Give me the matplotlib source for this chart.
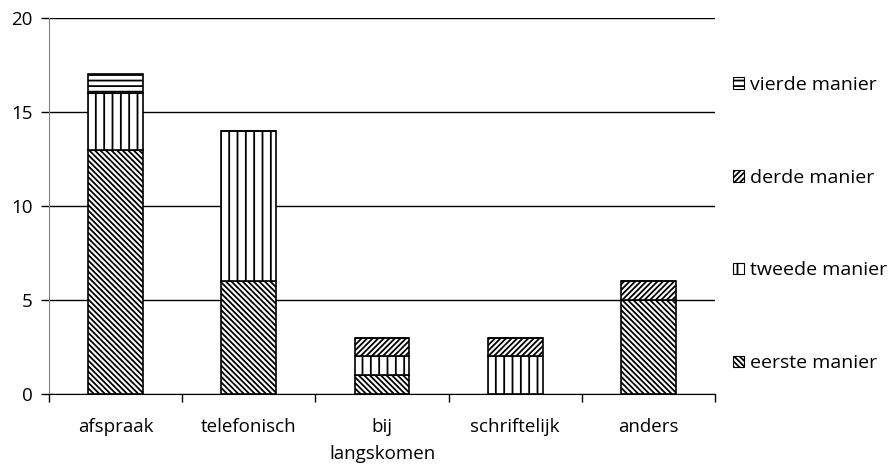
import numpy as np
import matplotlib.pyplot as plt
from matplotlib.patches import Patch

plt.rcParams['font.family'] = ['Open Sans', 'DejaVu Sans']
plt.rcParams['hatch.linewidth'] = 1.3

categories = ['afspraak', 'telefonisch', 'bij\nlangskomen', 'schriftelijk', 'anders']
eerste = [13, 6, 1, 0, 5]
tweede = [3, 8, 1, 2, 0]
derde = [0, 0, 1, 1, 1]
vierde = [1, 0, 0, 0, 0]
series = [('eerste manier', eerste, '\\' * 6),
          ('tweede manier', tweede, '||'),
          ('derde manier', derde, '/' * 6),
          ('vierde manier', vierde, '---')]

fig = plt.figure(figsize=(8.93, 4.67), dpi=100)
ax = fig.add_axes([49/893, 1-394/467, (715-49)/893, (394-18)/467])

x = np.arange(len(categories))
bottom = np.zeros(len(categories))
handles = []
for name, vals, hatch in series:
    vals = np.array(vals, dtype=float)
    ax.bar(x, vals, 0.41, bottom=bottom, color='white', edgecolor='black',
           hatch=hatch, linewidth=1.2, zorder=3)
    bottom += vals
    handles.append(Patch(facecolor='white', edgecolor='black', hatch=hatch, linewidth=0.8, label=name))

ax.set_xlim(-0.5, 4.5)
ax.set_ylim(0, 20)
ax.set_yticks([0, 5, 10, 15, 20])
ax.yaxis.grid(True, color='black', linewidth=1)
ax.set_axisbelow(True)
ax.set_xticks(x)
ax.set_xticklabels(categories, fontsize=13.5, linespacing=1.65)
ax.set_xticks(np.arange(-0.5, 5, 1), minor=True)
ax.tick_params(axis='x', which='major', length=0, pad=17)
ax.tick_params(axis='x', which='minor', length=6, width=1, direction='out')
ax.tick_params(axis='y', length=6, width=1, labelsize=13.5, pad=6)
for s in ['top', 'right']:
    ax.spines[s].set_visible(False)
ax.spines['left'].set_color('#808080')
ax.spines['bottom'].set_color('black')

fig.legend(handles[::-1], [h.get_label() for h in handles[::-1]],
           loc='center left', bbox_to_anchor=(733/893, 1-224/467), frameon=False,
           fontsize=14, handlelength=0.55, handleheight=0.55, handletextpad=0.3,
           labelspacing=3.85, borderpad=0, borderaxespad=0)

fig.savefig('out.png', dpi=100)
